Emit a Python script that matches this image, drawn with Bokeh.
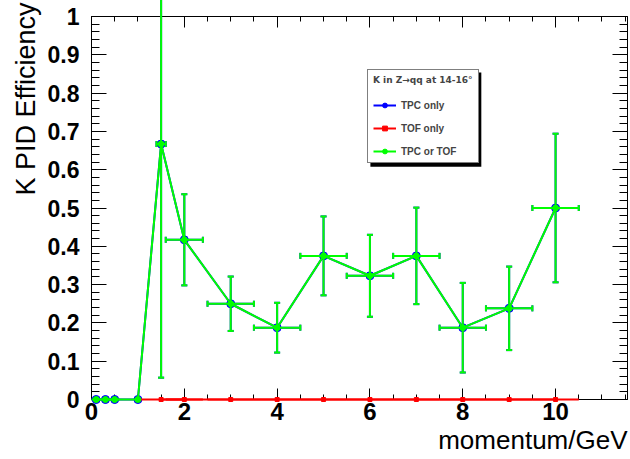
import numpy as np
from bokeh.plotting import figure
from bokeh.models import (ColumnDataSource, FixedTicker, LinearAxis, Range1d, Title,
                          Legend, LegendItem, BoxAnnotation)
from bokeh.embed import file_html
from bokeh.resources import INLINE

# ---------------- data ----------------
tpc_or_tof_x = [0.1, 0.3, 0.5, 1.0, 1.5, 2, 3, 4, 5, 6, 7, 8, 9, 10]
tpc_or_tof_xerr = [0.1, 0.1, 0.1, 0.0, 0.1, 0.4, 0.5, 0.5, 0.5, 0.5, 0.5, 0.5, 0.5, 0.5]
tpc_or_tof_y = [0, 0, 0, 0, 0.667, 0.417, 0.25, 0.1875, 0.375, 0.323, 0.375, 0.1875, 0.238, 0.5]
tpc_or_tof_yerr = [0, 0, 0, 0, 0.61, 0.119, 0.071, 0.065, 0.103, 0.107, 0.126, 0.117, 0.109, 0.194]

tpc_only_x = [0.1, 0.3, 0.5, 1.0, 1.5, 2, 3, 4, 5, 6, 7, 8, 9, 10]
tpc_only_xerr = [0.1, 0.1, 0.1, 0.0, 0.1, 0.4, 0.5, 0.5, 0.5, 0.5, 0.5, 0.5, 0.5, 0.5]
tpc_only_y = [0, 0, 0, 0, 0.667, 0.417, 0.25, 0.1875, 0.375, 0.323, 0.375, 0.1875, 0.238, 0.5]
tpc_only_yerr = [0, 0, 0, 0, 0.61, 0.119, 0.071, 0.065, 0.103, 0.107, 0.126, 0.117, 0.109, 0.194]

tof_only_x = [1.5, 2, 3, 4, 5, 6, 7, 8, 9, 10]
tof_only_xerr = [0.5, 0.4, 0.5, 0.5, 0.5, 0.5, 0.5, 0.5, 0.5, 0.5]
tof_only_y = [0, 0, 0, 0, 0, 0, 0, 0, 0, 0]
tof_only_yerr = [0, 0, 0, 0, 0, 0, 0, 0, 0, 0]

x_tick_values = [0, 2, 4, 6, 8, 10]
x_tick_labels = ["0", "2", "4", "6", "8", "10"]
y_tick_values = [0, 0.1, 0.2, 0.3, 0.4, 0.5, 0.6, 0.7, 0.8, 0.9, 1]
y_tick_labels = ["0", "0.1", "0.2", "0.3", "0.4", "0.5", "0.6", "0.7", "0.8", "0.9", "1"]

legend_title = "K in Z\u2192qq at 14-16\u00b0"
x_title = "momentum/GeV"
y_title = "K PID Efficiency"

X_MAX = 11.55
FONT = "Liberation Sans"

p = figure(width=630, height=459, output_backend="svg", toolbar_location=None,
           x_range=Range1d(0, X_MAX), y_range=Range1d(0, 1),
           x_axis_location=None, y_axis_location=None,
           min_border_left=91, min_border_right=3, min_border_top=16, min_border_bottom=60)
p.xgrid.visible = False
p.ygrid.visible = False
p.outline_line_color = None
p.background_fill_color = "white"
p.border_fill_color = "white"

x_minor = list(np.arange(0, 12.0, 0.5))
y_minor = list(np.round(np.arange(0, 1.0001, 0.02), 3))


def make_axis(kind, labels):
    ax = LinearAxis()
    if kind == "x":
        ax.ticker = FixedTicker(ticks=x_tick_values, minor_ticks=x_minor)
        ax.major_tick_in = 11
        ax.minor_tick_in = 5
        ax.major_label_overrides = dict(zip(x_tick_values, x_tick_labels))
        ax.major_label_text_font_size = "24px"
        ax.major_label_standoff = 3
    else:
        ax.ticker = FixedTicker(ticks=y_tick_values, minor_ticks=y_minor)
        ax.major_tick_in = 15
        ax.minor_tick_in = 8
        ax.major_label_overrides = dict(zip(y_tick_values, y_tick_labels))
        ax.major_label_text_font_size = "23px"
        ax.major_label_standoff = 12
    ax.major_tick_out = 0
    ax.minor_tick_out = 0
    ax.axis_line_color = "black"
    ax.major_tick_line_color = "black"
    ax.minor_tick_line_color = "black"
    ax.axis_line_width = 1
    ax.major_label_text_font = FONT
    ax.major_label_text_font_style = "bold"
    ax.major_label_text_color = "black"
    if not labels:
        vals = x_tick_values if kind == "x" else y_tick_values
        ax.major_label_overrides = {v: "" for v in vals}
        ax.major_label_text_font_size = "1px"
        ax.major_label_standoff = 0
    return ax


p.add_layout(make_axis("x", True), "below")
p.add_layout(make_axis("x", False), "above")
p.add_layout(make_axis("y", True), "left")
p.add_layout(make_axis("y", False), "right")

# axis titles (ROOT style: at the end of the axes)
p.add_layout(Title(text=x_title, align="right", text_font=FONT, text_font_style="normal",
                   text_font_size="26px", text_color="black", standoff=0, offset=0), "below")
p.add_layout(Title(text=y_title, align="right", vertical_align="top", text_font=FONT,
                   text_font_style="normal", text_font_size="27px", text_color="black",
                   standoff=4, offset=-14), "left")


def series(xs, xe, ys, ye, color, marker, size, cap=6):
    xs = np.array(xs, float); xe = np.array(xe, float)
    ys = np.array(ys, float); ye = np.array(ye, float)
    src = ColumnDataSource(dict(x=xs, y=ys, xlo=xs - xe, xhi=xs + xe, ylo=ys - ye, yhi=ys + ye))
    m = ye > 0
    csrc = ColumnDataSource(dict(x=xs[m], y=ys[m], xlo=(xs - xe)[m], xhi=(xs + xe)[m],
                                 ylo=(ys - ye)[m], yhi=(ys + ye)[m]))
    line = p.line("x", "y", source=src, line_color=color, line_width=2, level="overlay")
    p.segment(x0="xlo", y0="y", x1="xhi", y1="y", source=src, line_color=color, line_width=2, level="overlay")
    p.segment(x0="x", y0="ylo", x1="x", y1="yhi", source=csrc, line_color=color, line_width=2, level="overlay")
    for yc in ("ylo", "yhi"):
        p.scatter(x="x", y=yc, source=csrc, marker="dash", size=cap, line_color=color, line_width=2, level="overlay")
    for xc in ("xlo", "xhi"):
        p.scatter(x=xc, y="y", source=csrc, marker="dash", angle=np.pi / 2, size=cap, line_color=color,
                  line_width=2, level="overlay")
    mk = p.scatter("x", "y", source=src, marker=marker, size=size, fill_color=color, line_color=color,
                   level="overlay")
    return [line, mk]


r_tpc = series(tpc_only_x, tpc_only_xerr, tpc_only_y, tpc_only_yerr, "#0000ff", "circle", 8)
r_tof = series(tof_only_x, tof_only_xerr, tof_only_y, tof_only_yerr, "#ff0000", "square", 4)
r_all = series(tpc_or_tof_x, tpc_or_tof_xerr, tpc_or_tof_y, tpc_or_tof_yerr, "#00ff00", "circle", 6)

# legend shadow (ROOT style)
shadow = BoxAnnotation(left=6.01, right=8.40, top=0.854, bottom=0.608, fill_color="black", fill_alpha=1,
                       line_color=None, level="annotation")
p.add_layout(shadow)

legend = Legend(items=[LegendItem(label="TPC only", renderers=r_tpc),
                       LegendItem(label="TOF only", renderers=r_tof),
                       LegendItem(label="TPC or TOF", renderers=r_all)],
                location=(276, 236), title=legend_title,
                title_text_font="DejaVu Sans", title_text_font_style="bold", title_text_font_size="9px",
                label_text_font=FONT, label_text_font_style="bold", label_text_font_size="10px",
                border_line_color="black", border_line_width=1, background_fill_color="white",
                background_fill_alpha=1, padding=5, spacing=11, label_height=12, glyph_height=12,
                glyph_width=23, label_standoff=5, title_standoff=14, margin=0)
p.add_layout(legend)

open("out.html", "w").write(file_html(p, INLINE))
